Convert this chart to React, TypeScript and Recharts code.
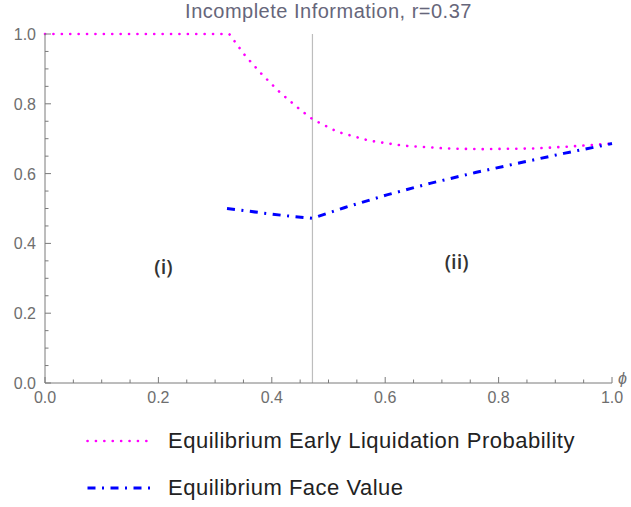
import { LineChart, Line, XAxis, YAxis, ReferenceLine, ReferenceDot } from "recharts";

const liquidationProb = [
  { phi: 0, p: 1 },
  { phi: 0.325, p: 1 },
  { phi: 0.353, p: 0.938 },
  { phi: 0.384, p: 0.882 },
  { phi: 0.416, p: 0.83 },
  { phi: 0.451, p: 0.782 },
  { phi: 0.4717, p: 0.756 },
  { phi: 0.515, p: 0.72 },
  { phi: 0.573, p: 0.694 },
  { phi: 0.632, p: 0.68 },
  { phi: 0.709, p: 0.672 },
  { phi: 0.768, p: 0.67 },
  { phi: 0.862, p: 0.672 },
  { phi: 0.92, p: 0.677 },
  { phi: 1.0, p: 0.686 },
];

const faceValue = [
  { phi: 0.321, f: 0.5 },
  { phi: 0.385, f: 0.487 },
  { phi: 0.426, f: 0.479 },
  { phi: 0.4717, f: 0.472 },
  { phi: 0.529, f: 0.503 },
  { phi: 0.603, f: 0.539 },
  { phi: 0.679, f: 0.572 },
  { phi: 0.759, f: 0.603 },
  { phi: 0.838, f: 0.631 },
  { phi: 0.915, f: 0.658 },
  { phi: 1.0, f: 0.686 },
];

const threshold = 0.4717;
const regionLabels = [
  { phi: 0.209, y: 0.333, text: "(i)" },
  { phi: 0.726, y: 0.348, text: "(ii)" },
];

const majorTicks = [0, 0.2, 0.4, 0.6, 0.8, 1.0];
const minorTicks = [0.05, 0.1, 0.15, 0.25, 0.3, 0.35, 0.45, 0.5, 0.55, 0.65, 0.7, 0.75, 0.85, 0.9, 0.95];
const allTicks = [...majorTicks, ...minorTicks].sort((a, b) => a - b);

const title = "Incomplete Information, r=0.37";
const legendItems = [
  { name: "Equilibrium Early Liquidation Probability", color: "#ff00ff", dash: "0.1 8.3", width: 2.6, cap: "round" },
  { name: "Equilibrium Face Value", color: "#0000ff", dash: "8 6.5 2 6.5", width: 3, cap: "butt" },
];

const AXIS = "#7a7a7a";
const TICK_TEXT = "#6e6e6e";
const FONT = "'Liberation Sans', Arial, sans-serif";

const isMajor = (v: number) => majorTicks.some((m) => Math.abs(m - v) < 1e-6);

const XTick = (props: any) => {
  const { x, y, payload } = props;
  const major = isMajor(payload.value);
  return (
    <g>
      <line x1={x} x2={x} y1={y} y2={y - (major ? 6 : 3.5)} stroke={AXIS} />
      {major && (
        <text x={x} y={y + 20} textAnchor="middle" fill={TICK_TEXT} fontSize={16} fontFamily={FONT}>
          {payload.value.toFixed(1)}
        </text>
      )}
    </g>
  );
};

const YTick = (props: any) => {
  const { x, y, payload } = props;
  const major = isMajor(payload.value);
  return (
    <g>
      <line x1={x} x2={x + (major ? 6 : 3.5)} y1={y} y2={y} stroke={AXIS} />
      {major && (
        <text x={x - 9} y={y + 6} textAnchor="end" fill={TICK_TEXT} fontSize={16} fontFamily={FONT}>
          {payload.value.toFixed(1)}
        </text>
      )}
    </g>
  );
};

export default function App() {
  return (
    <div style={{ position: "absolute", left: 0, top: 0, width: 631, height: 507, background: "#fff" }}>
      <div
        style={{
          position: "absolute",
          left: 45,
          width: 567,
          top: 0,
          lineHeight: "22px",
          textAlign: "center",
          fontFamily: FONT,
          fontSize: 20,
          letterSpacing: 0.5,
          color: "#66667a",
        }}
      >
        {title}
      </div>
      <LineChart width={631} height={507} margin={{ top: 34, right: 19, left: 5, bottom: 94 }}>
        <XAxis
          type="number"
          dataKey="phi"
          domain={[0, 1]}
          ticks={allTicks}
          interval={0}
          tickSize={0}
          tickMargin={0}
          tickLine={false}
          tick={<XTick />}
          axisLine={{ stroke: AXIS }}
          height={30}
          allowDuplicatedCategory={false}
        />
        <YAxis
          type="number"
          domain={[0, 1]}
          ticks={allTicks}
          interval={0}
          tickSize={0}
          tickMargin={0}
          tickLine={false}
          tick={<YTick />}
          axisLine={{ stroke: AXIS }}
          width={40}
        />
        <ReferenceLine x={threshold} stroke="#bdbdbd" strokeWidth={1.2} />
        <Line
          data={liquidationProb}
          dataKey="p"
          type="linear"
          stroke="#ff00ff"
          strokeWidth={2.6}
          strokeDasharray="0.1 8.3"
          strokeLinecap="round"
          dot={false}
          activeDot={false}
          isAnimationActive={false}
        />
        <Line
          data={faceValue}
          dataKey="f"
          type="linear"
          stroke="#0000ff"
          strokeWidth={3}
          strokeDasharray="8 6.5 2 6.5"
          dot={false}
          activeDot={false}
          isAnimationActive={false}
        />
        {regionLabels.map((r) => (
          <ReferenceDot
            key={r.text}
            x={r.phi}
            y={r.y}
            r={0}
            fill="none"
            stroke="none"
            label={{
              value: r.text,
              position: "center",
              fill: "#333",
              fontSize: 20,
              fontWeight: 600,
              fontFamily: "'Open Sans', sans-serif",
            }}
          />
        ))}
        <ReferenceDot
          x={1}
          y={0}
          r={0}
          fill="none"
          stroke="none"
          ifOverflow="visible"
          label={{
            value: "ϕ",
            position: "right",
            offset: 6,
            dy: -5,
            fill: TICK_TEXT,
            fontSize: 16,
            fontStyle: "italic",
            fontFamily: FONT,
          }}
        />
      </LineChart>
      {legendItems.map((item, i) => (
        <div
          key={item.name}
          style={{
            position: "absolute",
            left: 86,
            top: 427 + i * 47,
            height: 28,
            display: "flex",
            alignItems: "center",
            fontFamily: FONT,
            fontSize: 22,
            letterSpacing: 0.5,
            color: "#222",
          }}
        >
          <svg width={66} height={10} style={{ marginRight: 16 }}>
            <line
              x1={1.5}
              x2={64}
              y1={5}
              y2={5}
              stroke={item.color}
              strokeWidth={item.width}
              strokeDasharray={item.dash}
              strokeLinecap={item.cap as any}
            />
          </svg>
          {item.name}
        </div>
      ))}
    </div>
  );
}
